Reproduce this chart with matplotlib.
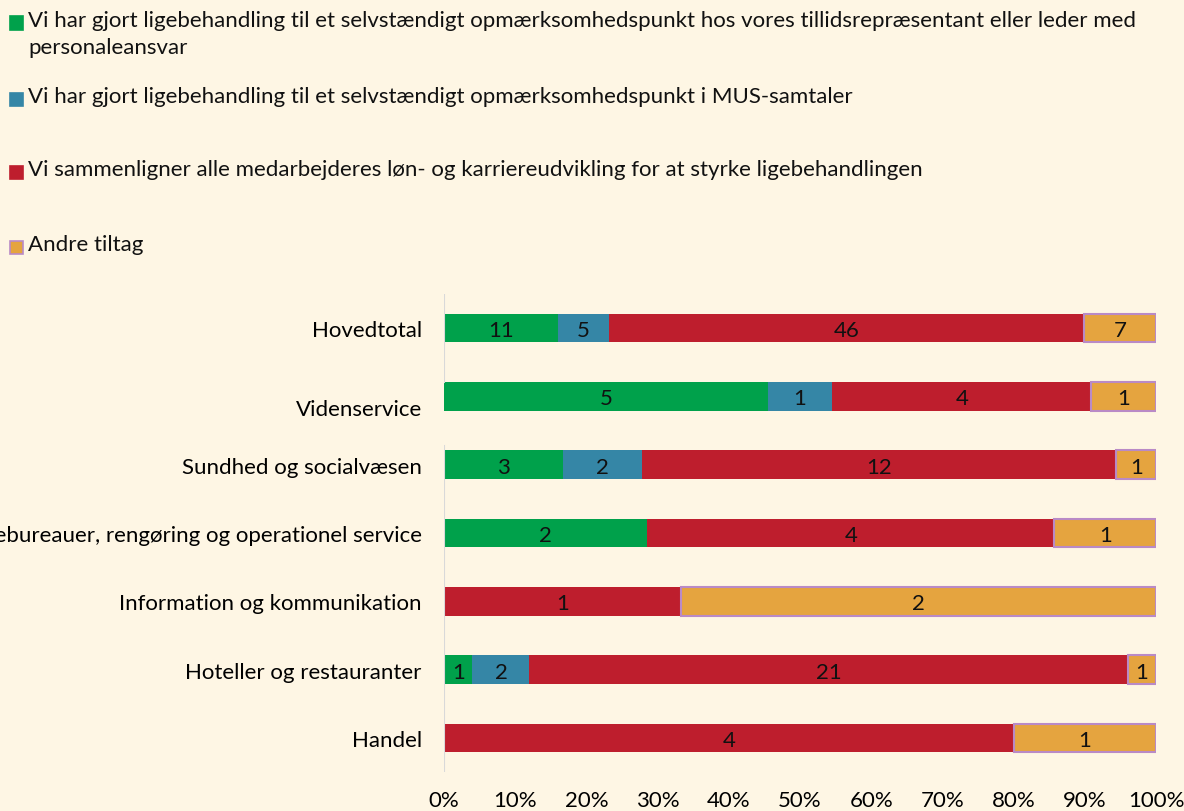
import matplotlib.pyplot as plt
import matplotlib.transforms as mtransforms
from matplotlib.patches import Rectangle
import numpy as np

plt.rcParams['font.family'] = ['Lato', 'DejaVu Sans']

# data
categories = ['Hovedtotal', 'Videnservice', 'Sundhed og socialvæsen',
              'Rejsebureauer, rengøring og operationel service',
              'Information og kommunikation', 'Hoteller og restauranter', 'Handel']
series = ['Vi har gjort ligebehandling til et selvstændigt opmærksomhedspunkt hos vores tillidsrepræsentant eller leder med\npersonaleansvar',
          'Vi har gjort ligebehandling til et selvstændigt opmærksomhedspunkt i MUS-samtaler',
          'Vi sammenligner alle medarbejderes løn- og karriereudvikling for at styrke ligebehandlingen',
          'Andre tiltag']
green = [11, 5, 3, 2, 0, 1, 0]
blue = [5, 1, 2, 0, 0, 2, 0]
red = [46, 4, 12, 4, 1, 21, 4]
orange = [7, 1, 1, 1, 2, 1, 1]
xticks = [0, 10, 20, 30, 40, 50, 60, 70, 80, 90, 100]

colors = ['#00A14B', '#3586A6', '#BE1E2D', '#E5A43F']
edges = [None, None, None, '#B98AC6']
bg = '#FEF6E4'
fs = 16

fig = plt.figure(figsize=(11.84, 8.12), dpi=100, facecolor=bg)
ax = fig.add_axes([0.375, 0.048, 0.6014, 0.5887])
ax.set_facecolor(bg)

vals = np.array([green, blue, red, orange], dtype=float)
tot = vals.sum(axis=0)
pct = vals / tot * 100
y = np.arange(len(categories))
left = np.zeros(len(categories))
for i in range(4):
    bars = ax.barh(y, pct[i], left=left, height=0.42, color=colors[i],
                   edgecolor=edges[i] if edges[i] else colors[i],
                   linewidth=1.5 if edges[i] else 0)
    for j, b in enumerate(bars):
        if vals[i][j] > 0:
            ax.text(left[j] + pct[i][j] / 2, y[j] + 0.03, '%d' % vals[i][j],
                    ha='center', va='center', fontsize=fs, color='#111111')
    left += pct[i]

ax.set_xlim(0, 100)
ax.set_ylim(len(categories) - 0.5, -0.5)
ax.set_yticks(y)
ax.set_yticklabels(categories, fontsize=fs)
ax.set_xticks(xticks)
ax.set_xticklabels(['%d%%' % t for t in xticks], fontsize=fs)
ax.tick_params(length=0)
ax.tick_params(axis='y', pad=16)
ax.tick_params(axis='x', pad=13)
for s in ax.spines.values():
    s.set_visible(False)

# Videnservice label sits a bit lower in the original
lab = ax.get_yticklabels()[1]
lab.set_transform(lab.get_transform() + mtransforms.ScaledTranslation(0, -11 / 100, fig.dpi_scale_trans))

# vertical axis line with a gap around Videnservice
ax.axvline(0, ymin=0.816, ymax=1.0, color='#D9D9D9', lw=1.5)
ax.axvline(0, ymin=0.0, ymax=0.682, color='#D9D9D9', lw=1.5)

# legend drawn by hand, one entry per row
leg_y = [24, 100, 173, 248]
for i, name in enumerate(series):
    yy = 1 - leg_y[i] / 812
    fig.patches.append(Rectangle((10 / 1184, yy - 6.5 / 812), 13 / 1184, 13 / 812,
                                 transform=fig.transFigure, facecolor=colors[i],
                                 edgecolor=edges[i] if edges[i] else colors[i], lw=1.2))
    fig.text(28 / 1184, yy + 13 / 812, name, fontsize=fs, va='top', ha='left',
             color='#111111', linespacing=1.45)

fig.savefig('out.png', dpi=100, facecolor=bg)
